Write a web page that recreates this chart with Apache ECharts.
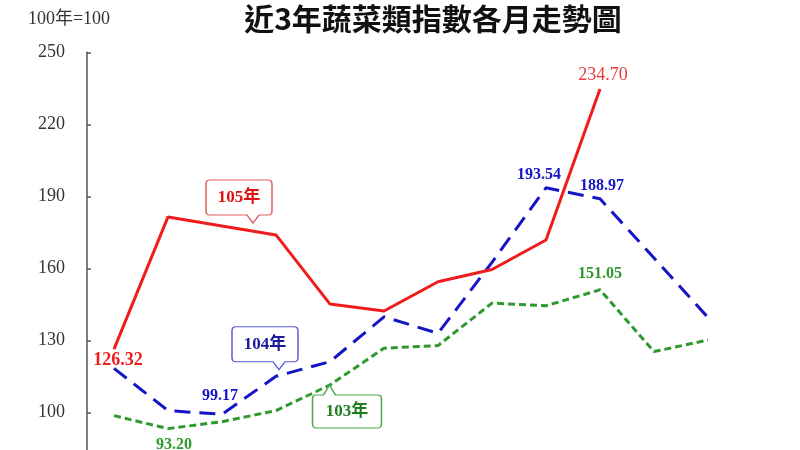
<!DOCTYPE html>
<html>
<head>
<meta charset="utf-8">
<script src="https://cdn.jsdelivr.net/npm/echarts@6/dist/echarts.min.js"></script>
<style>html,body{margin:0;padding:0;background:#fff;}#c{width:800px;height:450px;}</style>
</head>
<body>
<div id="c"></div>
<script>
// ---- data ----
const titleText = '近3年蔬菜類指數各月走勢圖';
const unitText = '100年=100';
const months = ['1月','2月','3月','4月','5月','6月','7月','8月','9月','10月','11月','12月'];
const yTicks = [70, 100, 130, 160, 190, 220, 250];
const y105 = [126.32, 181.4, 177.6, 173.9, 145.1, 142.2, 154.4, 159.5, 171.8, 234.70, null, null];
const y104 = [118.3, 100.7, 99.17, 115.0, 121.1, 139.8, 132.9, 162.5, 193.54, 188.97, 164.3, 139.5];
const y103 = [98.6, 93.20, 96.1, 100.7, 111.4, 126.7, 127.8, 145.5, 144.4, 151.05, 125.3, 130.1];
const seriesNames = ['105年', '104年', '103年'];
// callout anchors: [category, value]
const call105 = ['3月', 187.8];
const call104 = ['4月', 126.7];
const call103 = ['5月', 102.4];

// ---- styles ----
const RED = '#f01c1c', BLUE = '#1515c8', GREEN = '#2e9a2e';
const serif = '"Liberation Serif", "Noto Sans CJK TC", serif';
const downTail = 'path://M4,0 H62 Q66,0 66,4 V31 Q66,35 62,35 H53 L47,43 L41,35 H4 Q0,35 0,31 V4 Q0,0 4,0 Z';
const upTail = 'path://M4,10 H11 L17,0 L23,10 H65 Q69,10 69,14 V39 Q69,43 65,43 H4 Q0,43 0,39 V14 Q0,10 4,10 Z';

function lbl(pos, dist, off, size, color, weight) {
  return { show: true, position: pos, distance: dist, offset: off, fontSize: size,
    fontFamily: serif, fontWeight: weight || 'bold', color: color,
    formatter: p => p.value.toFixed(2) };
}
function withLabels(values, specs) {
  return values.map((v, i) => specs[i] ? { value: v, label: specs[i] } : v);
}

const redSpecs = { 0: lbl('bottom', 2, [4, 0], 18, RED), 9: lbl('top', 5, [3, 0], 18, '#e83a3a', 'normal') };
const blueSpecs = { 2: lbl('top', 10, [-2, 0], 16, BLUE), 8: lbl('top', 5, [-7, 0], 16, BLUE), 9: lbl('top', 5, [2, 0], 16, BLUE) };
const greenSpecs = { 1: lbl('bottom', 8, [6, 0], 16, GREEN), 9: lbl('top', 8, [0, 0], 16, GREEN) };

function callout(name, coord, sym, size, off, border, txt, lblOff) {
  return {
    symbol: sym, symbolSize: size, symbolOffset: off, coord: coord, name: name,
    itemStyle: { color: '#fff', borderColor: border, borderWidth: 1.2 },
    label: { show: true, formatter: name, position: 'inside', offset: lblOff,
      fontFamily: serif, fontWeight: 'bold', fontSize: 17, color: txt }
  };
}

function lineSeries(name, values, specs, color, dash, z, mp) {
  return {
    name: name, type: 'line', data: withLabels(values, specs), z: z,
    showSymbol: true, symbol: 'circle', symbolSize: 0,
    label: { show: false },
    lineStyle: { color: color, width: 3, type: dash }, itemStyle: { color: color },
    markPoint: { data: [mp] }
  };
}

const chart = echarts.init(document.getElementById('c'), null, { renderer: 'canvas' });
chart.setOption({
  animation: false,
  backgroundColor: '#fff',
  title: {
    text: titleText, left: 428, top: -1, textAlign: 'center',
    textStyle: { fontFamily: '"Noto Sans CJK TC", sans-serif', fontWeight: 'bold', fontSize: 30, color: '#111' }
  },
  grid: { left: 87, width: 648, top: 52.3, height: 432, outerBoundsMode: 'none', containLabel: false },
  xAxis: { type: 'category', data: months, boundaryGap: true, show: false },
  yAxis: {
    type: 'value', min: yTicks[0], max: yTicks[yTicks.length - 1], interval: 30,
    name: unitText, nameLocation: 'end', nameGap: 24,
    nameTextStyle: { fontFamily: serif, fontSize: 18, color: '#333', padding: [0, 36, 0, 0] },
    axisLine: { show: true, lineStyle: { color: '#555', width: 1.5 } },
    axisTick: { show: true, inside: true, length: 4, lineStyle: { color: '#555', width: 1.5 } },
    axisLabel: { fontFamily: serif, fontSize: 18, color: '#333', margin: 22 },
    splitLine: { show: false }
  },
  series: [
    lineSeries(seriesNames[0], y105, redSpecs, RED, 'solid', 5,
      callout('105年', call105, downTail, [66, 43], [17, 0], '#e06060', '#e01010', [0, -4])),
    lineSeries(seriesNames[1], y104, blueSpecs, BLUE, [16, 9], 4,
      callout('104年', call104, downTail, [66, 43], [-11, 0], '#5a5ad8', '#1a1a9a', [0, -4])),
    lineSeries(seriesNames[2], y103, greenSpecs, GREEN, [7, 4], 3,
      callout('103年', call103, upTail, [69, 43], [17, 0], '#4aaa4a', '#1e7e1e', [0, 5]))
  ]
});
</script>
</body>
</html>
